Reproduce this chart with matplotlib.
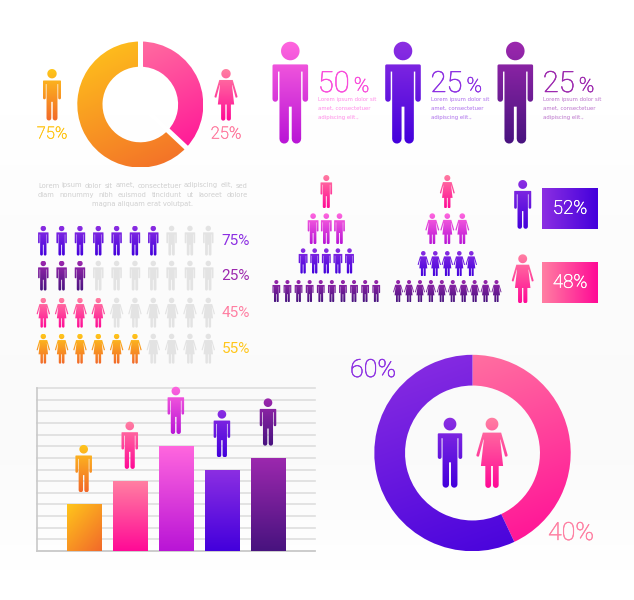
import numpy as np
import matplotlib
matplotlib.use("Agg")
import matplotlib.pyplot as plt
import matplotlib.patheffects as pe
from matplotlib.path import Path
from matplotlib.patches import PathPatch
from matplotlib.colors import to_rgb

# ---------- data ----------
gender_shares = [37, 63]
gender_labels = ["25%", "75%"]
trio_labels = ["50", "25", "25"]
waffle_filled = [7, 3, 4, 6]
waffle_total = 10
waffle_labels = ["75%", "25%", "45%", "55%"]
pyramid_counts = [1, 3, 5, 10]
split_labels = ["52%", "48%"]
bar_values = [4, 6, 9, 7, 8]
ring_shares = [43, 57]
ring_labels = ["40%", "60%"]
lorem_lines = ["Lorem ipsum dolor sit amet, consectetuer adipiscing elit, sed",
               "diam nonummy nibh euismod tincidunt ut laoreet dolore",
               "magna aliquam erat volutpat."]
small_lorem = ["Lorem ipsum dolor sit", "amet, consectetuer", "adipiscing elit.,"]

# ---------- palette ----------
ORANGE = ("#FFC61B", "#F2692A")
PINK = ("#FF7FA2", "#FF0A96")
MAGENTA = ("#FF66DE", "#B915D6")
VIOLET = ("#8C2FE2", "#4300DC")
PURPLE = ("#9C28AE", "#48137F")
GREY = "#E3E3E3"
FONT = ["Roboto", "DejaVu Sans"]
BODY = ["DejaVu Sans"]
NARROW = ["Roboto", "DejaVu Sans"]

W, H = 634, 600
fig = plt.figure(figsize=(W / 100, H / 100), dpi=100, facecolor="white")


def axes_px(x0, y0, x1, y1, **kw):
    return fig.add_axes([x0 / W, 1 - y1 / H, (x1 - x0) / W, (y1 - y0) / H], **kw)


def gradient(c1, c2, angle=90, n=64):
    """RGB array; angle measured clockwise on screen from +x."""
    yy, xx = np.mgrid[0:1:n * 1j, 0:1:n * 1j]
    a = np.deg2rad(angle)
    t = xx * np.cos(a) + yy * np.sin(a)
    t = (t - t.min()) / (t.max() - t.min())
    a1, a2 = np.array(to_rgb(c1)), np.array(to_rgb(c2))
    return a1 + (a2 - a1) * t[..., None]


def paint(ax, cols, left, right, top, bottom, angle=90, clip=None, zorder=2):
    """top/bottom are the data values at the screen top and bottom."""
    im = ax.imshow(gradient(*cols, angle), extent=(left, right, bottom, top),
                   origin="upper", aspect="auto", interpolation="bilinear", zorder=zorder)
    if clip is not None:
        im.set_clip_path(clip)
    return im


# background wash
bg = axes_px(0, 0, W, H)
bg.axis("off")
wash = np.interp(np.linspace(0, 600, 120), [0, 60, 300, 450, 600], [1, 1, .982, .978, 1])
bg.imshow(wash[:, None], cmap="gray", vmin=0, vmax=1, aspect="auto", extent=(0, 1, 0, 1))

# ---------- icons ----------


def arc(cx, cy, r, a0, a1, n=10):
    t = np.deg2rad(np.linspace(a0, a1, n))
    return np.column_stack([cx + r * np.cos(t), cy + r * np.sin(t)])


def closed(pts):
    pts = np.vstack([pts, pts[:1]])
    codes = [Path.MOVETO] + [Path.LINETO] * (len(pts) - 2) + [Path.CLOSEPOLY]
    return Path(pts, codes)


def outline(half, head_r=0.091):
    mirror = half[::-1] * [-1, 1]
    return Path.make_compound_path(closed(arc(0, head_r, head_r, 0, 360, 28)[:-1]),
                                   closed(np.vstack([half, mirror])))


MAN = outline(np.vstack([
    [[0, .222], [.160, .222]], arc(.160, .236, .014, -90, 0, 4),
    [[.174, .56]], arc(.147, .56, .027, 0, 180, 8),
    [[.120, .292], [.106, .292]],
    [[.106, .95]], arc(.060, .95, .046, 0, 180, 8),
    [[.014, .635], [0, .635]]]))
WOMAN = outline(np.vstack([
    [[0, .212], [.130, .212]],
    [[.222, .530]], arc(.204, .535, .018, -10, 110, 5),
    [[.186, .552], [.122, .312], [.116, .312], [.158, .687], [.095, .687]],
    [[.095, .958]], arc(.054, .958, .041, 0, 180, 8),
    [[.013, .687], [0, .687]]]))


def person(ax, kind, cx, top, bottom, cols=None, angle=90, zorder=5):
    h = bottom - top
    verts = kind.vertices * h + [cx, top]
    p = Path(verts, kind.codes)
    half = 0.24 * h
    if cols is None:
        ax.add_patch(PathPatch(p, fc=GREY, ec="none", zorder=zorder))
    else:
        paint(ax, cols, cx - half, cx + half, top, bottom, angle,
              clip=None, zorder=zorder).set_clip_path(p, ax.transData)


def donut(cx, cy, r, ratio, values, cols, gap_px=0, angle=65):
    pad = 1.03
    a = axes_px(cx - r * pad, cy - r * pad, cx + r * pad, cy + r * pad)
    wedges, _ = a.pie(values, radius=1, startangle=90, counterclock=False,
                      wedgeprops=dict(width=1 - ratio, fc="none", ec="none"))
    a.set_xlim(-pad, pad)
    a.set_ylim(-pad, pad)
    a.set_autoscale_on(False)
    a.axis("off")
    for w, c in zip(wedges, cols):
        paint(a, c, -1, 1, 1, -1, angle, clip=w)
    if gap_px:
        for b in np.cumsum(values)[:] / np.sum(values):
            th = np.pi / 2 - 2 * np.pi * b
            a.plot([0, 1.02 * np.cos(th)], [0, 1.02 * np.sin(th)], color="white",
                   lw=gap_px * 0.72, solid_capstyle="butt", zorder=4)
    return a


donut(140.3, 104.5, 63, 0.6, gender_shares, [PINK, ORANGE], gap_px=5)
donut(472.5, 453, 98.2, 0.687, ring_shares, [PINK, VIOLET], angle=70)

# ---------- bar chart ----------
bax = axes_px(37, 388, 315, 551)
pos = np.arange(1, len(bar_values) + 1)
bars = bax.bar(pos, bar_values, width=0.74, color="none", zorder=3)
bax.set_xlim(-0.013, 6.02)
bax.set_ylim(0, 14)
bax.set_autoscale_on(False)
bax.set_yticks(np.arange(0, 15))
bax.set_xticks([])
bax.tick_params(left=False, labelleft=False)
bax.grid(axis="y", color="#DEDEDE", lw=1.2, zorder=0)
for gl in bax.get_ygridlines():
    gl.set_clip_on(False)
bax.set_axisbelow(True)
bax.patch.set_alpha(0)
for s in ["top", "right"]:
    bax.spines[s].set_visible(False)
for s in ["left", "bottom"]:
    bax.spines[s].set_color("#C9C9C9")
    bax.spines[s].set_linewidth(1.2)
bar_cols = [ORANGE, PINK, MAGENTA, VIOLET, PURPLE]
for b, c, ang in zip(bars, bar_cols, [50, 90, 90, 90, 90]):
    x, w, hgt = b.get_x(), b.get_width(), b.get_height()
    paint(bax, c, x, x + w, hgt, 0, ang, clip=b, zorder=3)

# ---------- overlay ----------
ax = axes_px(0, 0, W, H)
ax.set_xlim(0, W)
ax.set_ylim(H, 0)
ax.set_autoscale_on(False)
ax.axis("off")


def label(x, y, s, color, size, ha="center", va="center", family=FONT, weight="light", stroke=0.35):
    t = ax.text(x, y, s, color=color, fontsize=size, ha=ha, va=va, family=family, weight=weight)
    if stroke:
        t.set_path_effects([pe.withStroke(linewidth=stroke, foreground=color)])
    return t


# icons standing above the bars, placed through the bar axis scale
for b, c in zip(bars, bar_cols):
    xc = b.get_x() + b.get_width() / 2
    px, py = ax.transData.inverted().transform(bax.transData.transform((xc, b.get_height())))
    person(ax, MAN, px, py - 59.5, py - 12, c)

# top-left pair
person(ax, MAN, 52, 69, 120.7, ORANGE)
person(ax, WOMAN, 226, 69, 120.7, PINK)
label(52, 134, gender_labels[1], ORANGE[0], 12)
label(226, 134, gender_labels[0], PINK[0], 12)

# paragraph (justified lines)
fig.canvas.draw()
rend = fig.canvas.get_renderer()
for i, line in enumerate(lorem_lines):
    y = 187.5 + 9.3 * i
    if i == 2:
        label(142, y, line, "#CFCFCF", 4.9, va="baseline", family=BODY, weight="normal", stroke=0)
        continue
    words = line.split()
    ts = [label(0, y, w, "#CFCFCF", 4.9, ha="left", va="baseline", family=BODY, weight="normal", stroke=0)
          for w in words]
    widths = [t.get_window_extent(rend).width for t in ts]
    space = (209.5 - sum(widths)) / (len(words) - 1)
    cur = 38
    for t, w in zip(ts, widths):
        t.set_x(cur)
        cur += w + space

# trio of people
trio_x = [290.3, 403, 515.3]
trio_cols = [MAGENTA, VIOLET, PURPLE]
trio_text = ["#FF8CE8", "#AE70EC", "#BC75CC"]
trio_head = ["#F94ADB", VIOLET[0], PURPLE[0]]
for x, c, s, tc, hc in zip(trio_x, trio_cols, trio_labels, trio_text, trio_head):
    person(ax, MAN, x, 41.7, 144, c)
    label(x + 27.5, 92, s, hc, 21, ha="left", va="baseline")
    label(x + 63.5, 92, "%", hc, 15, ha="left", va="baseline")
    for j, l in enumerate(small_lorem):
        label(x + 28, 101.5 + 8.7 * j, l, tc, 3.9, ha="left", va="baseline", family=BODY, weight="normal", stroke=0)

# waffle rows
row_y = [225.7, 260.7, 297.7, 333.7]
row_kind = [MAN, MAN, WOMAN, WOMAN]
row_cols = [VIOLET, PURPLE, PINK, ORANGE]
for ry, k, c, n, s in zip(row_y, row_kind, row_cols, waffle_filled, waffle_labels):
    for j in range(waffle_total):
        person(ax, k, 43.3 + 18.33 * j, ry, ry + 30, c if j < n else None)
    label(236, ry + 15.5, s, c[0], 11, family=NARROW, weight="normal", stroke=0)

# pyramids
pyr_cols = [PINK, MAGENTA, VIOLET, PURPLE]
pyr_top = [[175, 213.3, 248.3, 280], [175, 213.3, 251, 280]]
pyr_bot = [[208.3, 244.3, 273.7, 302.3], [208.3, 244.3, 276.3, 302.3]]
pyr_dx = [[0, 13.2, 11.6, 11.1], [0, 15, 12, 10.93]]
for cx, kind, tops, bots, dxs in zip([326.3, 447.3], [MAN, WOMAN], pyr_top, pyr_bot, pyr_dx):
    for n, c, t, b, d in zip(pyramid_counts, pyr_cols, tops, bots, dxs):
        for j in range(n):
            person(ax, kind, cx + (j - (n - 1) / 2) * d, t, b, c)

# split boxes
person(ax, MAN, 522.7, 180, 229, VIOLET)
person(ax, WOMAN, 522.7, 254.3, 303.3, PINK)
paint(ax, VIOLET, 542, 597.7, 188.3, 229, angle=0, zorder=3)
paint(ax, PINK, 542, 597.7, 262.3, 303.3, angle=0, zorder=3)
label(570, 208.7, split_labels[0], "white", 13.5).set_zorder(6)
label(570, 282.7, split_labels[1], "white", 13.5).set_zorder(6)

# ring
person(ax, MAN, 450, 417.7, 488, VIOLET)
person(ax, WOMAN, 492, 417.7, 488, PINK)
label(373, 370, ring_labels[1], VIOLET[0], 18)
label(571, 533, ring_labels[0], PINK[0], 18)

fig.savefig("out.png", dpi=100)
